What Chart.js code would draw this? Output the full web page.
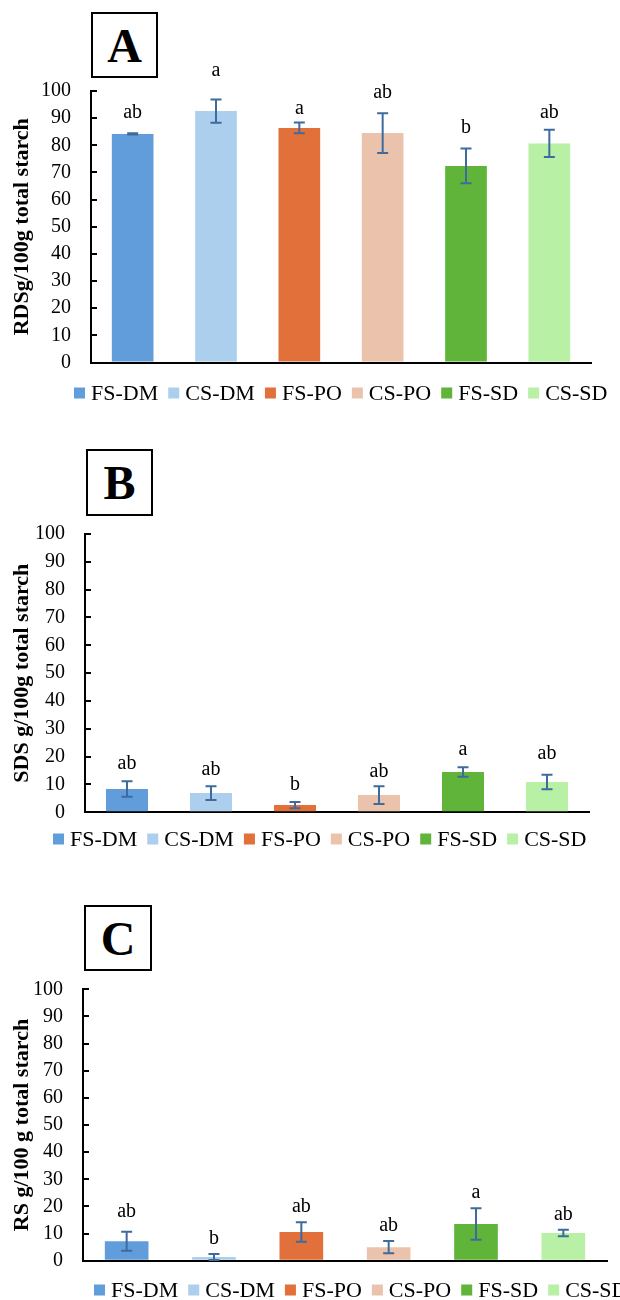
<!DOCTYPE html>
<html>
<head>
<meta charset="utf-8">
<script src="https://cdn.jsdelivr.net/npm/chart.js@4"></script>
<style>
  html, body { margin: 0; padding: 0; background: #fff; }
  body { position: relative; width: 620px; height: 1300px; overflow: hidden; }
  canvas { position: absolute; left: 0; }
  .tag {
    position: absolute; box-sizing: border-box; border: 2px solid #000; background: #fff;
    display: flex; align-items: center; justify-content: center;
    font: bold 48px "Liberation Serif", serif; color: #000;
  }
</style>
</head>
<body>
<div class="tag" style="left:91px;top:12px;width:67px;height:66px">A</div>
<canvas id="chartA" width="620" height="430" style="top:0px"></canvas>
<div class="tag" style="left:86px;top:449px;width:67px;height:67px">B</div>
<canvas id="chartB" width="620" height="440" style="top:430px"></canvas>
<div class="tag" style="left:84px;top:905px;width:68px;height:66px">C</div>
<canvas id="chartC" width="620" height="430" style="top:870px"></canvas>
<script>
// treatments, same order in every panel
const categories = ["FS-DM", "CS-DM", "FS-PO", "CS-PO", "FS-SD", "CS-SD"];
const barColors = ["#619DDA", "#ABCFEC", "#E2703A", "#EBC3AD", "#60B43A", "#B8F0A5"];

// A: rapidly digestible starch
const rdsValues = [84.2, 92.6, 86.4, 84.5, 72.4, 80.7];
const rdsErrors = [0.2, 4.3, 2.0, 7.3, 6.4, 5.0];
const rdsLetters = ["ab", "a", "a", "ab", "b", "ab"];
const rdsLetterAt = [89.9, 105.5, 91.7, 97.5, 84.4, 90.1];

// B: slowly digestible starch
const sdsValues = [8.4, 6.9, 2.6, 6.2, 14.5, 10.9];
const sdsErrors = [2.8, 2.5, 1.1, 3.2, 1.7, 2.6];
const sdsLetters = ["ab", "ab", "b", "ab", "a", "ab"];
const sdsLetterAt = [15.4, 13.3, 7.9, 12.7, 20.5, 19.2];

// C: resistant starch
const rsValues = [7.2, 1.4, 10.6, 5.0, 13.5, 10.2];
const rsErrors = [3.5, 1.1, 3.6, 2.3, 5.8, 1.2];
const rsLetters = ["ab", "b", "ab", "ab", "a", "ab"];
const rsLetterAt = [16.2, 6.3, 17.8, 10.8, 23.2, 15.0];

const yTickStep = 10;
const yMax = 100;

Chart.defaults.color = "#000";
Chart.defaults.font.family = "'Liberation Serif', serif";

// error bars + significance letters over each bar
const errorBarPlugin = {
    id: "errorBars",
    afterDatasetsDraw(chart, args, opts) {
        const ctx = chart.ctx;
        const y = chart.scales.y;
        const bars = chart.getDatasetMeta(0).data;
        ctx.save();
        ctx.strokeStyle = "#3D6B9E";
        ctx.lineWidth = 2;
        bars.forEach((bar, i) => {
            const hi = y.getPixelForValue(opts.values[i] + opts.errors[i]);
            const lo = y.getPixelForValue(opts.values[i] - opts.errors[i]);
            ctx.beginPath();
            ctx.moveTo(bar.x, hi);
            ctx.lineTo(bar.x, lo);
            ctx.moveTo(bar.x - 5.5, hi);
            ctx.lineTo(bar.x + 5.5, hi);
            ctx.moveTo(bar.x - 5.5, lo);
            ctx.lineTo(bar.x + 5.5, lo);
            ctx.stroke();
        });
        ctx.fillStyle = "#000";
        ctx.font = "20px 'Liberation Serif'";
        ctx.textAlign = "center";
        ctx.textBaseline = "alphabetic";
        bars.forEach((bar, i) => {
            ctx.fillText(opts.letters[i], bar.x, y.getPixelForValue(opts.letterAt[i]));
        });
        ctx.restore();
    }
};

// excel-like legend row under the plot
const rowLegendPlugin = {
    id: "rowLegend",
    afterDraw(chart, args, opts) {
        const ctx = chart.ctx;
        const labels = chart.data.labels;
        const colors = chart.data.datasets[0].backgroundColor;
        ctx.save();
        ctx.font = "22px 'Liberation Serif'";
        ctx.textBaseline = "middle";
        ctx.textAlign = "left";
        var x = opts.x;
        for (var i = 0; i < labels.length; i++) {
            ctx.fillStyle = colors[i];
            ctx.fillRect(x, opts.y - 5.5, 11, 11);
            ctx.fillStyle = "#000";
            ctx.fillText(labels[i], x + 17, opts.y + 1);
            x += 17 + ctx.measureText(labels[i]).width + 10;
        }
        ctx.restore();
    }
};

function makeChart(id, p) {
    return new Chart(document.getElementById(id), {
        type: "bar",
        data: {
            labels: categories,
            datasets: [{
                data: p.values,
                backgroundColor: barColors,
                borderWidth: 0,
                barPercentage: 0.5,
                categoryPercentage: 1.0
            }]
        },
        plugins: [errorBarPlugin, rowLegendPlugin],
        options: {
            responsive: false,
            animation: false,
            devicePixelRatio: 1,
            layout: { padding: { left: 0, top: p.top, right: p.right, bottom: p.bottom } },
            plugins: {
                legend: { display: false },
                tooltip: { enabled: false },
                errorBars: { values: p.values, errors: p.errors, letters: p.letters, letterAt: p.letterAt },
                rowLegend: { x: p.legendX, y: p.legendY }
            },
            scales: {
                x: {
                    ticks: { display: false },
                    grid: { display: false, drawTicks: false },
                    border: { display: true, color: "#000", width: 2 }
                },
                y: {
                    min: 0,
                    max: yMax,
                    afterFit: (scale) => { scale.width = p.left; },
                    ticks: { stepSize: yTickStep, padding: 26, font: { size: 20 }, color: "#000" },
                    grid: { display: true, drawOnChartArea: false, drawTicks: true, tickLength: -6, color: "#000", lineWidth: 2 },
                    border: { display: true, color: "#000", width: 2 },
                    title: {
                        display: true,
                        text: p.title,
                        color: "#000",
                        font: { size: 22, weight: "bold" },
                        padding: { top: 9, bottom: 0 }
                    }
                }
            }
        }
    });
}

makeChart("chartA", {
    values: rdsValues, errors: rdsErrors, letters: rdsLetters, letterAt: rdsLetterAt,
    title: "RDSg/100g total starch",
    left: 91, top: 91, right: 29, bottom: 67.5, legendX: 74, legendY: 393
});
makeChart("chartB", {
    values: sdsValues, errors: sdsErrors, letters: sdsLetters, letterAt: sdsLetterAt,
    title: "SDS g/100g total starch",
    left: 85, top: 104, right: 31, bottom: 57.7, legendX: 53, legendY: 409
});
makeChart("chartC", {
    values: rsValues, errors: rsErrors, letters: rsLetters, letterAt: rsLetterAt,
    title: "RS g/100 g total starch",
    left: 83, top: 119.3, right: 13, bottom: 39.3, legendX: 94, legendY: 420
});
</script>
</body>
</html>
